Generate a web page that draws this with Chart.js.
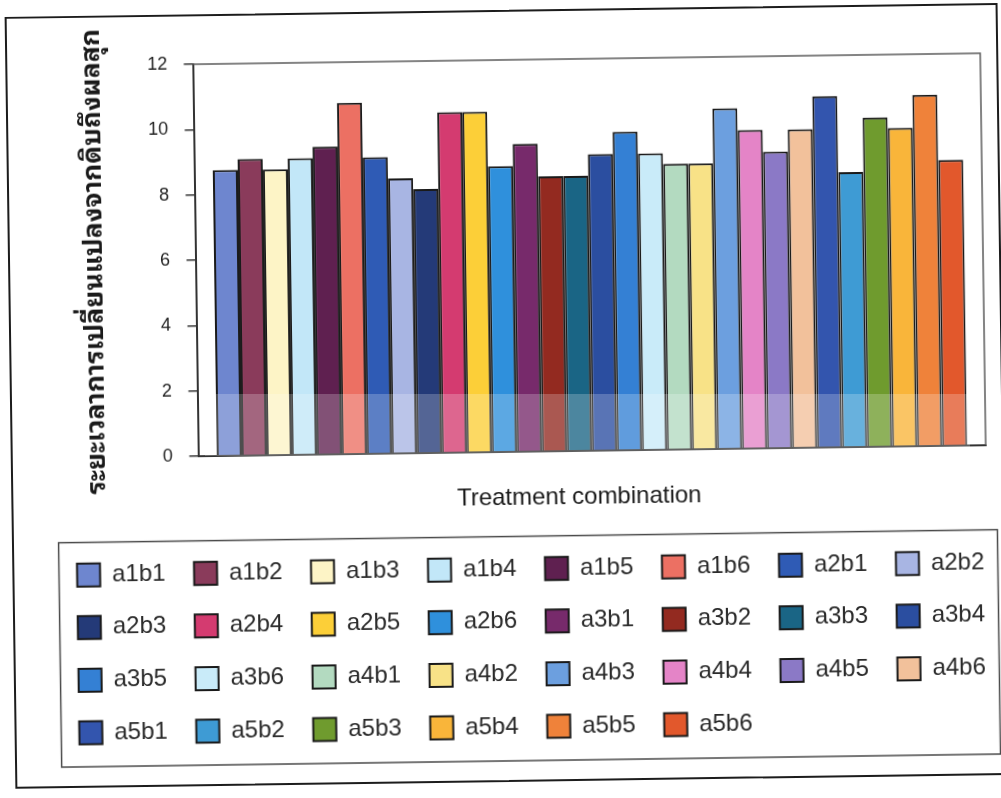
<!DOCTYPE html>
<html>
<head>
<meta charset="utf-8">
<script src="https://cdn.jsdelivr.net/npm/chart.js@4.4.1/dist/chart.umd.min.js"></script>
<style>
  html, body { margin: 0; padding: 0; background: #fff; overflow: hidden; width: 1001px; height: 798px; }
  #sheet { position: absolute; left: 0; top: 0; width: 1001px; height: 798px;
           transform: rotate(-0.8deg); transform-origin: 500.5px 399px; }
  #frame { position: absolute; left: 10px; top: 10px; width: 993px; height: 772px;
           border: 2.5px solid #1c1c1c; box-sizing: border-box; }
  #plot { position: absolute; left: 0; top: 0; }
  #wash { position: absolute; left: 205px; top: 394px; width: 765px; height: 62px;
          background: rgba(255, 255, 255, 0.22); pointer-events: none; }
</style>
</head>
<body>
<div id="sheet">
  <div id="frame"></div>
  <canvas id="plot" width="1030" height="798"></canvas>
</div>
<div id="wash"></div>
<script>
// Treatment combinations (factor a x factor b)
const treatments = [
  'a1b1', 'a1b2', 'a1b3', 'a1b4', 'a1b5', 'a1b6',
  'a2b1', 'a2b2', 'a2b3', 'a2b4', 'a2b5', 'a2b6',
  'a3b1', 'a3b2', 'a3b3', 'a3b4', 'a3b5', 'a3b6',
  'a4b1', 'a4b2', 'a4b3', 'a4b4', 'a4b5', 'a4b6',
  'a5b1', 'a5b2', 'a5b3', 'a5b4', 'a5b5', 'a5b6'
];

// Days from unripe to ripe, one value per treatment
const ripeningDays = [
  8.75, 9.08, 8.75, 9.08, 9.42, 10.75,
  9.08, 8.42, 8.08, 10.42, 10.42, 8.75,
  9.42, 8.42, 8.42, 9.08, 9.75, 9.08,
  8.75, 8.75, 10.42, 9.75, 9.08, 9.75,
  10.75, 8.42, 10.08, 9.75, 10.75, 8.75
];

const barColors = [
  '#6e86cf', '#8a3b5b', '#fdf4c6', '#c2e7f8', '#5f2050', '#ec7063',
  '#2f5bb5', '#a8b5e3', '#243a78', '#d43b70', '#fccf38', '#2f90dc',
  '#772a6b', '#932a20', '#1a6585', '#2b4ea0', '#3480d4', '#c9ebf9',
  '#b3dac0', '#f8e287', '#6c9fdf', '#e484c7', '#8b79c6', '#f2c19b',
  '#3355ae', '#3e9bd4', '#6f9b2e', '#f9b53a', '#ef823a', '#e2582c'
];

const yTicks = [0, 2, 4, 6, 8, 10, 12];

const yTitle = 'ระยะเวลาการเปลี่ยนแปลงจากดิบถึงผลสุก';
const xTitle = 'Treatment combination';

const LATIN = "'Liberation Sans', Arial, sans-serif";
const THAI = "'Noto Sans Thai Looped', 'Noto Serif Thai', Norasi, Kinnari, Loma, Garuda, 'Noto Sans Thai', 'Liberation Sans', sans-serif";

// Plot-area outline (top/right) and the box around the legend
const panelFrames = {
  id: 'panelFrames',
  beforeDatasetsDraw(chart) {
    const { ctx, chartArea: a } = chart;
    ctx.save();
    ctx.strokeStyle = '#5c5c5c';
    ctx.lineWidth = 1.5;
    ctx.beginPath();
    ctx.moveTo(a.left, a.top);
    ctx.lineTo(a.right, a.top);
    ctx.lineTo(a.right, a.bottom);
    ctx.stroke();
    ctx.restore();
  },
  afterDraw(chart) {
    const { ctx, legend, chartArea: a } = chart;
    ctx.save();
    ctx.strokeStyle = '#4a4a4a';
    ctx.lineWidth = 1.5;
    const x0 = legend.left + 10.5, x1 = a.right + 10.5;
    const y0 = legend.top + 8, y1 = legend.bottom + 12;
    ctx.strokeRect(x0, y0, x1 - x0, y1 - y0);
    ctx.restore();
  }
};

const datasets = treatments.map((name, i) => ({
  label: name,
  data: [ripeningDays[i]],
  backgroundColor: barColors[i],
  borderColor: '#1a1a1a',
  borderWidth: 2,
  borderSkipped: 'start',
  barPercentage: 1.0,
  categoryPercentage: 0.953
}));

new Chart(document.getElementById('plot'), {
  type: 'bar',
  data: { labels: [''], datasets },
  plugins: [panelFrames],
  options: {
    responsive: false,
    animation: false,
    devicePixelRatio: 1,
    layout: { padding: { left: 46.1, right: 0, top: 60, bottom: 49 } },
    plugins: {
      tooltip: { enabled: false },
      title: { display: false },
      legend: {
        display: true,
        position: 'bottom',
        align: 'start',
        labels: {
          boxWidth: 23,
          boxHeight: 23,
          padding: 28.6,
          color: '#2a2a2a',
          font: { family: LATIN, size: 24 }
        }
      }
    },
    scales: {
      x: {
        offset: true,
        grid: { display: false, drawTicks: false },
        border: { display: true, color: '#333', width: 2 },
        ticks: { display: false },
        title: {
          display: true,
          text: xTitle + '\u00a0\u00a0\u00a0\u00a0',
          color: '#1a1a1a',
          font: { family: LATIN, size: 24 },
          padding: { top: 31.6, bottom: 16.2 }
        }
      },
      y: {
        min: 0,
        max: 12,
        afterBuildTicks: (s) => { s.ticks = yTicks.map(v => ({ value: v })); },
        afterFit: (s) => { s.width = 151.4; },
        grid: { drawOnChartArea: false, drawTicks: true, tickLength: 9, color: '#333', lineWidth: 1.5 },
        border: { display: true, color: '#333', width: 2 },
        ticks: { color: '#222', padding: 16.5, font: { family: LATIN, size: 18 } },
        title: {
          display: true,
          text: yTitle,
          color: '#1a1a1a',
          font: { family: THAI, size: 26.5, weight: 'bold' },
          padding: { top: 35, bottom: 0 }
        }
      },
      yPad: {
        position: 'right',
        display: true,
        afterFit: (s) => { s.width = 45; },
        grid: { display: false },
        border: { display: false },
        ticks: { display: false }
      }
    }
  }
});
</script>
</body>
</html>
